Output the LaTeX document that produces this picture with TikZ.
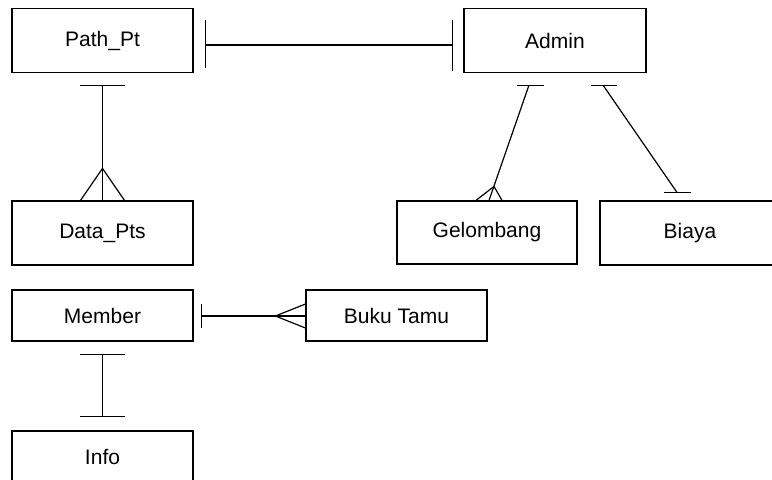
\documentclass[tikz,border=0pt]{standalone}
\usepackage{fontspec}
\setmainfont{Liberation Sans}
\usetikzlibrary{calc}

\begin{document}
\begin{tikzpicture}[x=0.5pt,y=-0.5pt,line width=0.6pt,
        entity/.style={draw,inner sep=0pt,minimum width=90.5pt,minimum height=32pt,font=\fontsize{10.5}{12}\selectfont},
        small/.style={entity,minimum height=25.5pt}]
        \useasboundingbox (0,0) rectangle (772,479);
        % tables
        \node[entity] (path) at (102.5,40.5) {Path\_Pt};
        \node[entity,minimum width=91pt] (admin) at (555,40.5) {Admin};
        \node[entity] (data) at (102.5,233) {Data\_Pts};
        \node[entity,minimum width=90pt,minimum height=31.5pt] (gel) at (487,232.5) {Gelombang};
        \node[entity,minimum width=90pt] (biaya) at (690,233) {Biaya};
        \node[small] (member) at (102.5,315.5) {Member};
        \node[small] (buku) at (396.5,315.5) {Buku Tamu};
        \node[small] (info) at (102.5,456.5) {Info};
        % Path_Pt -- Admin
        \coordinate (pa1) at ($(path.east)+(12,4.5)$);
        \coordinate (pa2) at ($(admin.west)+(-11,4.5)$);
        \draw (pa1) -- (pa2);
        \draw ($(pa1)+(0,-25)$) -- ($(pa1)+(0,23)$);
        \draw ($(pa2)+(0,-25)$) -- ($(pa2)+(0,26)$);
        % Path_Pt -- Data_Pts
        \coordinate (pd1) at ($(path.south)+(0,12)$);
        \coordinate (pd2) at (data.north);
        \draw (pd1) -- (pd2);
        \draw ($(pd1)+(-22.5,0)$) -- ($(pd1)+(22.5,0)$);
        \draw ($(pd2)+(-22,0)$) -- ($(pd2)+(0,-32)$) -- ($(pd2)+(22,0)$);
        % Admin -- Gelombang
        \coordinate (ag1) at ($(admin.south)+(-26,12)$);
        \coordinate (ag2) at ($(gel.north)+(2,0)$);
        \draw (ag1) -- (ag2);
        \draw ($(ag1)+(-12,0)$) -- ($(ag1)+(15,0)$);
        \draw ($(ag2)+(-13,0)$) -- ($(ag2)+(5,-14)$) -- ($(ag2)+(13,0)$);
        % Admin -- Biaya
        \coordinate (ab1) at ($(admin.south)+(48,12)$);
        \coordinate (ab2) at ($(biaya.north)+(-13,-8)$);
        \draw (ab1) -- (ab2);
        \draw ($(ab1)+(-12,0)$) -- ($(ab1)+(14,0)$);
        \draw ($(ab2)+(-13,0)$) -- ($(ab2)+(14,0)$);
        % Member -- Buku Tamu
        \coordinate (mb1) at ($(member.east)+(8,0.5)$);
        \coordinate (mb2) at ($(buku.west)+(0,0.5)$);
        \draw (mb1) -- (mb2);
        \draw ($(mb1)+(0,-12)$) -- ($(mb1)+(0,12)$);
        \draw ($(mb2)+(0,-12)$) -- ($(mb2)+(-30,0)$) -- ($(mb2)+(0,12)$);
        % Member -- Info
        \coordinate (mi1) at ($(member.south)+(0,13)$);
        \coordinate (mi2) at ($(info.north)+(0,-14)$);
        \draw (mi1) -- (mi2);
        \foreach \p in {mi1,mi2}{\draw ($(\p)+(-22.5,0)$) -- ($(\p)+(22.5,0)$);}
\end{tikzpicture}
\end{document}
